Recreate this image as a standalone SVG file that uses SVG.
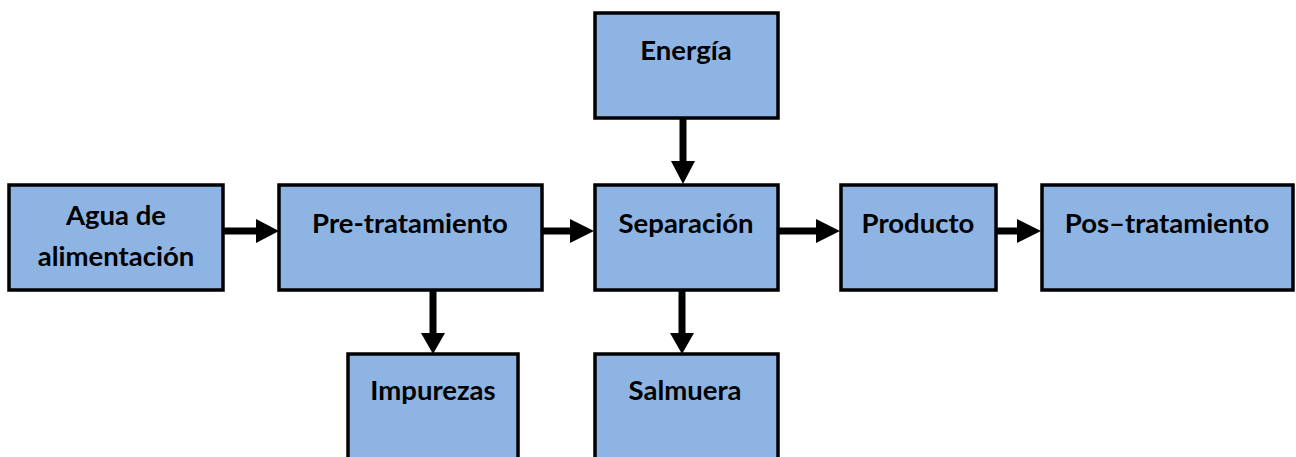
<svg xmlns="http://www.w3.org/2000/svg" width="1296" height="457" viewBox="0 0 1296 457">
<style>
.box{fill:#8eb4e3;stroke:#000;stroke-width:3.5}
.lbl{font-family:Lato,"Open Sans","Liberation Sans",sans-serif;font-weight:bold;font-size:27.5px;fill:#000;text-anchor:middle}
.con{stroke:#000;stroke-width:7;fill:none}
.head{fill:#000}
</style>
<rect width="1296" height="457" fill="#fff"/>
<g id="connectors">
<line class="con" x1="224" y1="231" x2="258" y2="231"/><polygon class="head" points="256,219 279,231 256,243"/>
<line class="con" x1="543" y1="231" x2="572" y2="231"/><polygon class="head" points="570,219 594,231 570,243"/>
<line class="con" x1="779" y1="231" x2="818" y2="231"/><polygon class="head" points="816,219 840,231 816,243"/>
<line class="con" x1="997" y1="231" x2="1019" y2="231"/><polygon class="head" points="1017,219 1041,231 1017,243"/>
<line class="con" x1="683" y1="119" x2="683" y2="163"/><polygon class="head" points="671,161 683,184 695,161"/>
<line class="con" x1="433" y1="291" x2="433" y2="335"/><polygon class="head" points="421,333 433,354 445,333"/>
<line class="con" x1="682" y1="291" x2="682" y2="335"/><polygon class="head" points="670,333 682,354 694,333"/>
</g>
<g id="agua"><rect class="box" x="9" y="185" width="214" height="105"/><text class="lbl" x="116" y="225">Agua de</text><text class="lbl" x="116" y="266">alimentación</text></g>
<g id="pretratamiento"><rect class="box" x="279" y="185" width="263" height="105"/><text class="lbl" x="410" y="233">Pre-tratamiento</text></g>
<g id="separacion"><rect class="box" x="595" y="185" width="183" height="105"/><text class="lbl" x="686" y="233">Separación</text></g>
<g id="producto"><rect class="box" x="841" y="185" width="155" height="105"/><text class="lbl" x="918" y="233">Producto</text></g>
<g id="postratamiento"><rect class="box" x="1042" y="185" width="251" height="105"/><text class="lbl" x="1167" y="233">Pos–tratamiento</text></g>
<g id="energia"><rect class="box" x="595" y="13" width="183" height="105"/><text class="lbl" x="686" y="60">Energía</text></g>
<g id="impurezas"><rect class="box" x="348" y="354" width="170" height="110"/><text class="lbl" x="433" y="400">Impurezas</text></g>
<g id="salmuera"><rect class="box" x="595" y="354" width="183" height="110"/><text class="lbl" x="685" y="400">Salmuera</text></g>
</svg>
